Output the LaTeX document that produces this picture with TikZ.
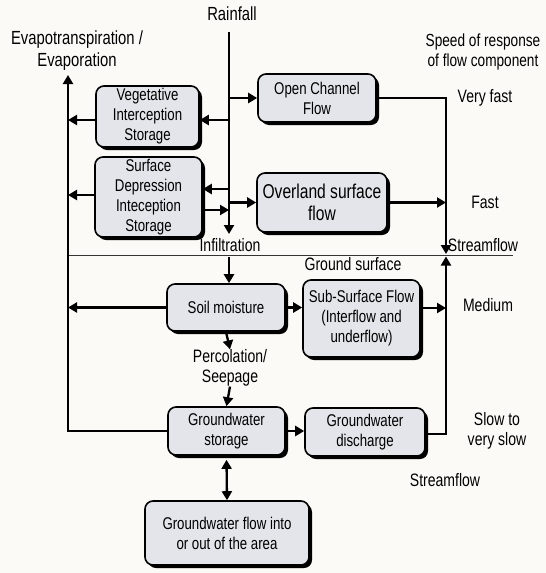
\documentclass[tikz,border=0pt]{standalone}
\usepackage{fontspec}
\setmainfont[FakeStretch=0.78]{Liberation Sans}
\usetikzlibrary{arrows.meta,shadows}
\definecolor{bg}{RGB}{251,250,247}
\definecolor{boxfill}{RGB}{228,229,234}
\begin{document}
\begin{tikzpicture}[x=1pt,y=-1pt,
  proc/.style={draw=black, line width=1.6pt, fill=boxfill, rounded corners=8pt,
    drop shadow={shadow xshift=3pt,shadow yshift=-3pt,opacity=1,fill=black},
    align=center, inner sep=0pt, font=\fontsize{17}{20}\selectfont},
  lbl/.style={align=center, inner sep=0pt, font=\fontsize{18}{20}\selectfont},
  flow/.style={line width=2.3pt, -{Triangle[length=9pt,width=10pt]}},
]
\fill[bg] (0,0) rectangle (546,573);
\useasboundingbox (0,0) rectangle (546,573);

% boxes
\node[proc, minimum width=103pt, minimum height=61pt] (veg) at (147.5,116.5) {Vegetative\\Interception\\Storage};
\node[proc, minimum width=118pt, minimum height=48pt] (ocf) at (317,98) {Open Channel\\Flow};
\node[proc, minimum width=107pt, minimum height=80pt] (sds) at (148.5,197) {Surface\\Depression\\Inteception\\Storage};
\node[proc, minimum width=130pt, minimum height=59pt, font=\fontsize{20}{22}\selectfont] (ovl) at (322,202.5) {Overland surface\\flow};
\node[proc, minimum width=118pt, minimum height=47pt] (soil) at (226,307.5) {Soil moisture};
\node[proc, minimum width=117pt, minimum height=77pt] (sub) at (361.5,318.5) {Sub-Surface Flow\\(Interflow and\\underflow)};
\node[proc, minimum width=117pt, minimum height=48pt] (gws) at (226.5,431) {Groundwater\\storage};
\node[proc, minimum width=120pt, minimum height=48pt] (gwd) at (365,432) {Groundwater\\discharge};
\node[proc, minimum width=164pt, minimum height=64pt] (gwf) at (227,533) {Groundwater flow into\\or out of the area};

% labels
\node[lbl, font=\fontsize{19}{22}\selectfont] (rain) at (232,14) {Rainfall};
\node[lbl, font=\fontsize{19}{22}\selectfont] (evap) at (77,51) {Evapotranspiration /\\Evaporation};
\node[lbl, font=\fontsize{17.5}{20}\selectfont] (speed) at (483,52) {Speed of response\\of flow component};
\node[lbl] (vfast) at (485,98) {Very fast};
\node[lbl] (fast) at (485,202) {Fast};
\node[lbl] (sf1) at (483,245) {Streamflow};
\node[lbl] (gsurf) at (353,264) {Ground surface};
\node[lbl] (med) at (488,305) {Medium};
\node[lbl] (slow) at (497,431) {Slow to\\very slow};
\node[lbl] (sf2) at (445,480) {Streamflow};
\node[lbl] (infil) at (230,245) {Infiltration};
\node[lbl] (perc) at (230,368) {Percolation/\\Seepage};

% coordinates
\coordinate (rtop) at (229,32);
\coordinate (rbot) at (229,234);
\coordinate (evtop) at (68,75);
\coordinate (gl1) at (68,255);
\coordinate (gl2) at (513,255);
\coordinate (sfx) at (446,254);
\coordinate (sfy) at (446,256.5);

% ground surface line
\draw[line width=1pt, black!80] (gl1) -- (gl2);

% rainfall line
\draw[flow] (rtop) -- (rbot);
\draw[flow] (ocf.west -| rtop) -- (ocf.west);
\draw[flow] ([yshift=-3.5pt]veg.east -| rtop) -- ([yshift=-3.5pt]veg.east);
\draw[flow] ([yshift=8pt]sds.east -| rtop) -- ([yshift=8pt]sds.east);
\draw[flow] ([yshift=-13pt]sds.east) -- ([yshift=-13pt]sds.east -| rtop);
\draw[flow] (ovl.west -| rtop) -- (ovl.west);

% evapotranspiration line
\draw[flow] (gws.west) -- (gws.west -| evtop) -- (evtop);
\draw[flow] ([yshift=-3.5pt]veg.west) -- ([yshift=-3.5pt]veg.west -| evtop);
\draw[flow] ([yshift=2pt]sds.west) -- ([yshift=2pt]sds.west -| evtop);
\draw[flow] (soil.west) -- (soil.west -| evtop);

% streamflow collector
\draw[flow] (ocf.east) -- (ocf.east -| sfx) -- (sfx);
\draw[flow] (ovl.east) -- (ovl.east -| sfx);
\draw[flow] ([yshift=-2pt]gwd.east) -- ([yshift=-2pt]gwd.east -| sfy) -- (sfy);
\draw[flow] ([yshift=10.5pt]sub.east) -- ([yshift=10.5pt]sub.east -| sfx);

% subsurface chain
\draw[flow] (229,257) -- (soil.north -| 229,0);
\draw[flow] (soil.east) -- (soil.east -| sub.west);
\draw[flow] (soil.south) -- (perc.north);
\draw[flow] (perc.south) -- (gws.north);
\draw[flow] (gws.east) -- (gws.east -| gwd.west);
\draw[line width=2.3pt, {Triangle[length=9pt,width=10pt]}-{Triangle[length=9pt,width=10pt]}] ([yshift=-4pt]gws.south) -- (gwf.north);
\end{tikzpicture}
\end{document}
